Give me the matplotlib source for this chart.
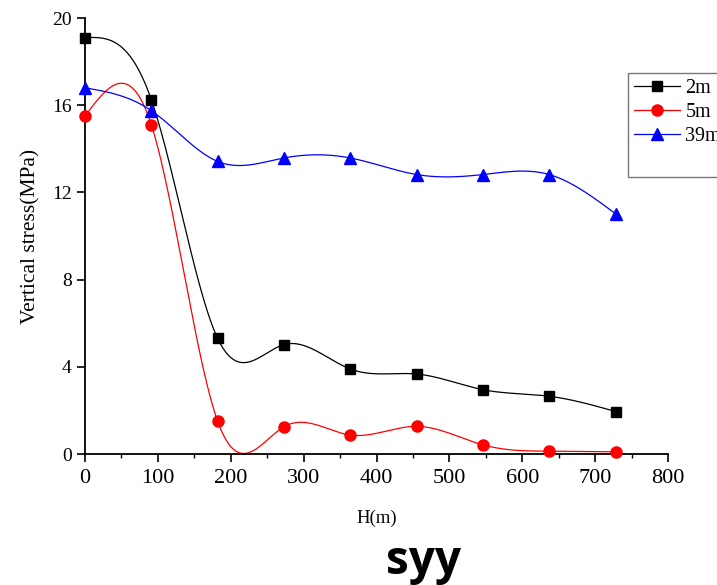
"""Vertical stress (syy) against distance H for three depths."""

import matplotlib

matplotlib.use("Agg")
import matplotlib.pyplot as plt
import numpy as np
from matplotlib.lines import Line2D
from matplotlib.ticker import MultipleLocator

H_M = [0, 91, 182, 273, 364, 455, 546, 637, 728]
STRESS_2M = [19.1, 16.25, 5.3, 5.02, 3.9, 3.67, 2.95, 2.65, 1.95]
STRESS_5M = [15.5, 15.1, 1.5, 1.25, 0.87, 1.27, 0.42, 0.13, 0.1]
STRESS_39M = [16.8, 15.75, 13.42, 13.58, 13.58, 12.82, 12.82, 12.82, 11.02]

SERIES = [
    ("2m", STRESS_2M, "black", "s", 7),
    ("5m", STRESS_5M, "red", "o", 8),
    ("39m", STRESS_39M, "blue", "^", 8.5),
]


def natural_spline(x, y, n=400):
    """Smooth curve through the points (natural cubic spline), like Origin's spline line."""
    x = np.asarray(x, dtype=float)
    y = np.asarray(y, dtype=float)
    k = len(x)
    h = np.diff(x)
    a = np.zeros((k, k))
    b = np.zeros(k)
    a[0, 0] = a[-1, -1] = 1.0
    for i in range(1, k - 1):
        a[i, i - 1] = h[i - 1]
        a[i, i] = 2 * (h[i - 1] + h[i])
        a[i, i + 1] = h[i]
        b[i] = 6 * ((y[i + 1] - y[i]) / h[i] - (y[i] - y[i - 1]) / h[i - 1])
    m = np.linalg.solve(a, b)

    xs = np.linspace(x[0], x[-1], n)
    idx = np.clip(np.searchsorted(x, xs) - 1, 0, k - 2)
    x0, x1 = x[idx], x[idx + 1]
    hi = h[idx]
    t0, t1 = x1 - xs, xs - x0
    ys = (
        m[idx] * t0**3 / (6 * hi)
        + m[idx + 1] * t1**3 / (6 * hi)
        + (y[idx] / hi - m[idx] * hi / 6) * t0
        + (y[idx + 1] / hi - m[idx + 1] * hi / 6) * t1
    )
    return xs, ys


plt.rcParams["font.family"] = ["Liberation Serif", "DejaVu Serif"]

fig = plt.figure(figsize=(7.17, 5.85), dpi=100)
ax = fig.add_axes([0.1186, 0.2239, 0.8131, 0.7453])

handles = []
for label, values, color, marker, size in SERIES:
    xs, ys = natural_spline(H_M, values)
    ax.plot(xs, ys, color=color, lw=0.9, zorder=2)
    ax.plot(H_M, values, ls="none", marker=marker, ms=size, color=color, zorder=3, clip_on=False)
    handles.append(Line2D([], [], color=color, lw=0.9, marker=marker, ms=size, label=label))
# Origin leaves an empty row at the bottom of the legend box
handles.append(Line2D([], [], color="none", label=" "))

ax.set_xlim(0, 800)
ax.set_ylim(0, 20)
ax.xaxis.set_major_locator(MultipleLocator(100))
ax.xaxis.set_minor_locator(MultipleLocator(50))
ax.yaxis.set_major_locator(MultipleLocator(4))
ax.yaxis.set_minor_locator(MultipleLocator(2))

for side in ("top", "right"):
    ax.spines[side].set_visible(False)
for side in ("left", "bottom"):
    ax.spines[side].set_linewidth(1.3)

ax.tick_params(which="major", direction="out", length=6, width=1.2)
ax.tick_params(axis="x", which="major", labelsize=16, pad=4.5)
ax.tick_params(axis="y", which="major", labelsize=14)
ax.tick_params(which="minor", direction="out", length=3, width=1.0)
ax.tick_params(axis="y", which="minor", length=0)

ax.set_xlabel("H(m)", fontsize=13.5, labelpad=16)
ax.set_ylabel("Vertical stress(MPa)", fontsize=15.5, labelpad=8)

leg = ax.legend(
    handles=handles,
    loc="upper left",
    bbox_to_anchor=(628 / 717, 1 - 73 / 585),
    bbox_transform=fig.transFigure,
    fontsize=14.5,
    frameon=True,
    fancybox=False,
    handlelength=2.3,
    handletextpad=0.25,
    labelspacing=0.25,
    borderpad=0.3,
    borderaxespad=0,
)
leg.get_frame().set_edgecolor("#555555")
leg.get_frame().set_linewidth(1.0)

fig.text(0.591, 0.019, "syy", fontsize=33, fontweight="bold", family="Open Sans",
         ha="center", va="baseline")

fig.savefig("out.png", dpi=100)
